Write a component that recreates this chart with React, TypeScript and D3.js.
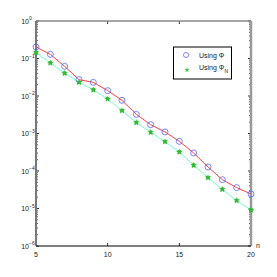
import React from "react";
import * as d3 from "d3";

const nValues = [5, 6, 7, 8, 9, 10, 11, 12, 13, 14, 15, 16, 17, 18, 19, 20];
const usingPhi = [0.203, 0.129, 0.0618, 0.0273, 0.0231, 0.0139, 0.00766, 0.00324, 0.00172, 0.0011, 0.000618, 0.000302, 0.000128, 0.0000587, 0.000036, 0.0000244];
const usingPhiN = [0.143, 0.0759, 0.0403, 0.0231, 0.0145, 0.00832, 0.00406, 0.00195, 0.00107, 0.000605, 0.000321, 0.000142, 0.0000664, 0.0000324, 0.0000162, 0.00000912];
const xTicks = [5, 10, 15, 20];
const yExps = [0, -1, -2, -3, -4, -5, -6];
const legendLabels = ["Using Φ", "Using Φ"];

export default function App() {
  const W = 277, H = 277;
  const L = 36, R = 251, T = 21, B = 246;
  const x = d3.scaleLinear().domain([5, 20]).range([L, R]);
  const y = d3.scaleLog().domain([1e-6, 1]).range([B, T]);
  const line = (vals: number[]) =>
    d3.line<number>().x((_, i) => x(nValues[i])).y((v) => y(v))(vals) || "";
  const font = "'Liberation Sans Narrow', 'Arial Narrow', 'Liberation Sans', sans-serif";
  const minor: number[] = [];
  for (let e = -6; e < 0; e++) for (let k = 2; k <= 9; k++) minor.push(k * Math.pow(10, e));
  const star = d3.symbol().type(d3.symbolStar).size(14)() || "";
  const cross = d3.symbol().type(d3.symbolCross).size(12)() || "";
  return (
    <svg width={W} height={H} style={{ position: "absolute", left: 0, top: 0, background: "#fff" }} fontFamily={font}>
      <rect x={0} y={0} width={W} height={H} fill="#fff" />
      {/* minor ticks */}
      {minor.map((v, i) => (
        <g key={"m" + i}>
          <line x1={L} x2={L + 2} y1={y(v)} y2={y(v)} stroke="#333" strokeWidth={0.8} />
          <line x1={R} x2={R - 2} y1={y(v)} y2={y(v)} stroke="#333" strokeWidth={0.8} />
        </g>
      ))}
      {yExps.map((e) => (
        <g key={"y" + e}>
          <line x1={L} x2={L + 3} y1={y(Math.pow(10, e))} y2={y(Math.pow(10, e))} stroke="#333" />
          <line x1={R} x2={R - 3} y1={y(Math.pow(10, e))} y2={y(Math.pow(10, e))} stroke="#333" />
          <text x={29} y={y(Math.pow(10, e)) + 2.5} fontSize={7} textAnchor="end" fill="#222">10</text>
          <text x={29} y={y(Math.pow(10, e)) - 1} fontSize={5} textAnchor="start" fill="#222">{e === 0 ? "0" : "−" + Math.abs(e)}</text>
        </g>
      ))}
      {xTicks.map((t) => (
        <g key={"x" + t}>
          <line x1={x(t)} x2={x(t)} y1={B} y2={B - 3} stroke="#333" />
          <line x1={x(t)} x2={x(t)} y1={T} y2={T + 3} stroke="#333" />
          <text x={x(t)} y={257} fontSize={7} textAnchor="middle" fill="#222">{t}</text>
        </g>
      ))}
      {/* axes frame */}
      <line x1={L} x2={R} y1={T} y2={T} stroke="#888" strokeWidth={1.5} />
      <line x1={L} x2={L} y1={T} y2={B} stroke="#777" strokeWidth={2} />
      <line x1={R} x2={R} y1={T} y2={B} stroke="#999" strokeWidth={2.5} />
      <line x1={L} x2={R} y1={B} y2={B} stroke="#000" strokeWidth={1} />
      <text x={256} y={248} fontSize={7} fill="#222">n</text>
      {/* series */}
      <path d={line(usingPhiN)} fill="none" stroke="#77ffcc" strokeWidth={1} />
      <path d={line(usingPhi)} fill="none" stroke="#ff4040" strokeWidth={1} />
      {usingPhi.map((v, i) => (
        <circle key={"c" + i} cx={x(nValues[i])} cy={y(v)} r={3} fill="none" stroke="#5566ff" strokeWidth={0.8} />
      ))}
      {usingPhiN.map((v, i) => (
        <g key={"s" + i} transform={`translate(${x(nValues[i])},${y(v)})`}>
          <path d={star} fill="#33bb33" />
          <path d={cross} fill="#33bb33" transform="rotate(45)" />
        </g>
      ))}
      {/* legend */}
      <rect x={173.5} y={47} width={58} height={32} fill="#fff" stroke="#000" strokeWidth={1} />
      <circle cx={186} cy={55} r={2.5} fill="none" stroke="#5566ff" strokeWidth={0.8} />
      <text x={199} y={57.5} fontSize={7} fill="#222">{legendLabels[0]}</text>
      <g transform="translate(187,70)">
        <path d={star} fill="#33bb33" transform="scale(0.8)" />
      </g>
      <text x={199} y={70} fontSize={7} fill="#222">{legendLabels[1]}<tspan fontSize={5} dy={2.5}>N</tspan></text>
    </svg>
  );
}
